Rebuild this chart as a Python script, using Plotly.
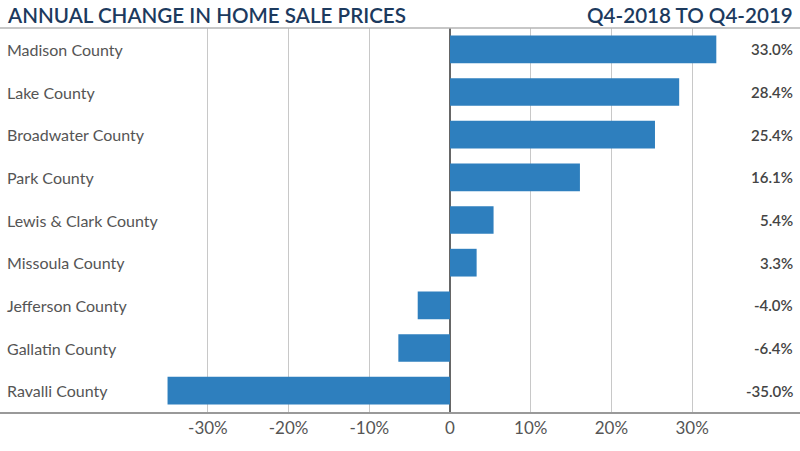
import plotly.graph_objects as go

counties = ["Madison County", "Lake County", "Broadwater County", "Park County",
            "Lewis & Clark County", "Missoula County", "Jefferson County",
            "Gallatin County", "Ravalli County"]
changes = [33.0, 28.4, 25.4, 16.1, 5.4, 3.3, -4.0, -6.4, -35.0]
tick_vals = [-30, -20, -10, 0, 10, 20, 30]
tick_text = ["-30%", "-20%", "-10%", "0", "10%", "20%", "30%"]
title_left = "ANNUAL CHANGE IN HOME SALE PRICES"
title_right = "Q4-2018 TO Q4-2019"

fig = go.Figure(go.Bar(
    x=changes, y=counties, orientation="h",
    marker=dict(color="#2e7fbe", line=dict(width=0)),
    hoverinfo="skip",
))

annotations = []
for c, v in zip(counties, changes):
    annotations.append(dict(x=0.006, xref="paper", y=c, yref="y", text=c,
                            showarrow=False, xanchor="left",
                            font=dict(family="Lato", size=16, color="#555555")))
    annotations.append(dict(x=0.994, xref="paper", y=c, yref="y", text=f"{v:.1f}%",
                            showarrow=False, xanchor="right",
                            font=dict(family="Lato", size=15, color="#444444", weight=600)))
annotations.append(dict(x=0.006, xref="paper", y=1, yref="paper", yshift=-1, text=title_left,
                        showarrow=False, xanchor="left", yanchor="bottom",
                        font=dict(family="Lato", size=20.6, color="#1c3a5e", weight=600)))
annotations.append(dict(x=0.994, xref="paper", y=1, yref="paper", yshift=-1, text=title_right,
                        showarrow=False, xanchor="right", yanchor="bottom",
                        font=dict(family="Lato", size=20.6, color="#1c3a5e", weight=600)))

fig.update_layout(
    width=800, height=451,
    margin=dict(l=0, r=0, t=28, b=39),
    plot_bgcolor="white", paper_bgcolor="white",
    bargap=0.35, showlegend=False,
    annotations=annotations,
    shapes=[dict(type="line", xref="paper", yref="paper", x0=0, x1=1, y0=1, y1=1,
                 line=dict(color="#b5b5b5", width=1.5))],
    xaxis=dict(range=[-55.76, 43.37], tickvals=tick_vals, ticktext=tick_text,
               showgrid=True, gridcolor="#c8c8c8", gridwidth=1,
               zeroline=True, zerolinecolor="#666666", zerolinewidth=1.5,
               showline=True, linecolor="#999999", linewidth=1.5,
               tickfont=dict(family="Lato", size=17, color="#555555"),
               fixedrange=True),
    yaxis=dict(autorange="reversed", showticklabels=False, showgrid=False,
               zeroline=False, fixedrange=True),
)

fig.write_html("out.html", config={"displayModeBar": False},
               post_script="document.body.style.margin='0';document.body.style.overflow='hidden';")
